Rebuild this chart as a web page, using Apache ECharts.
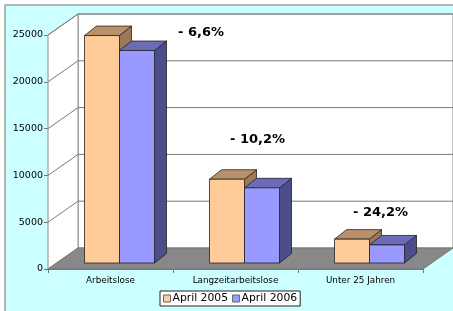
<!DOCTYPE html>
<html>
<head>
<meta charset="utf-8">
<script src="https://cdn.jsdelivr.net/npm/echarts@6/dist/echarts.min.js"></script>
<style>
  html, body { margin: 0; padding: 0; background: #fff; }
  #chart { width: 453px; height: 311px; }
</style>
</head>
<body>
<div id="chart"></div>
<script>
var categories = ['Arbeitslose', 'Langzeitarbeitslose', 'Unter 25 Jahren'];
var april2005 = [24300, 8950, 2550];
var april2006 = [22700, 8030, 1930];
var changes = ['- 6,6%', '- 10,2%', '- 24,2%'];
var yTicks = [0, 5000, 10000, 15000, 20000, 25000];

// depth of the floor / walls and of the bars (pixels)
var DX = 30, DY = -21;
var FX = 9, FY = -6;     // bar front face offset
var BX = 12, BY = -9.5;  // bar depth

var chart = echarts.init(document.getElementById('chart'));

function renderWalls(params, api) {
    var cs = params.coordSys;
    var x0 = cs.x, x1 = cs.x + cs.width;
    var yt = cs.y, yb = cs.y + cs.height;
    var kids = [];
    // back wall
    kids.push({
        type: 'polygon',
        shape: {points: [[x0 + DX, yt + DY], [x1 + DX, yt + DY], [x1 + DX, yb + DY], [x0 + DX, yb + DY]]},
        style: {fill: '#ffffff', stroke: '#8c8c8c', lineWidth: 1}
    });
    // side wall
    kids.push({
        type: 'polygon',
        shape: {points: [[x0, yt], [x0 + DX, yt + DY], [x0 + DX, yb + DY], [x0, yb]]},
        style: {fill: '#ffffff', stroke: '#8c8c8c', lineWidth: 1}
    });
    // floor
    kids.push({
        type: 'polygon',
        shape: {points: [[x0, yb], [x1, yb], [x1 + DX, yb + DY], [x0 + DX, yb + DY]]},
        style: {fill: '#888888', stroke: '#777777', lineWidth: 1}
    });
    yTicks.forEach(function (v) {
        if (v === 0) return;
        var y = api.coord([0, v])[1];
        kids.push({
            type: 'polyline',
            shape: {points: [[x0, y], [x0 + DX, y + DY], [x1 + DX, y + DY]]},
            style: {stroke: '#7a7a7a', lineWidth: 1, fill: null}
        });
    });
    return {type: 'group', children: kids};
}

function barRenderer(left, front, top, side) {
    return function (params, api) {
        var base = api.coord([api.value(0), 0]);
        var tip = api.coord([api.value(0), api.value(1)]);
        var w = api.size([1, 0])[0] * 0.28;
        var xl = base[0] + FX + (left ? -w : 0);
        var xr = xl + w;
        var yb = base[1] + FY;
        var yt = tip[1] + FY;
        var line = {stroke: '#222', lineWidth: 0.8, lineJoin: 'round'};
        return {
            type: 'group',
            children: [
                {
                    type: 'polygon',
                    shape: {points: [[xr, yt], [xr + BX, yt + BY], [xr + BX, yb + BY], [xr, yb]]},
                    style: Object.assign({fill: side}, line)
                },
                {
                    type: 'polygon',
                    shape: {points: [[xl, yt], [xr, yt], [xr + BX, yt + BY], [xl + BX, yt + BY]]},
                    style: Object.assign({fill: top}, line)
                },
                {
                    type: 'rect',
                    shape: {x: xl, y: yt, width: w, height: yb - yt},
                    style: Object.assign({fill: front}, line)
                }
            ]
        };
    };
}

var labelPos = [[178, 26], [230, 133], [353, 206]];

chart.setOption({
    backgroundColor: '#ffffff',
    animation: false,
    grid: {left: 48, right: 30, top: 35, bottom: 42},
    legend: {
        left: 160,
        top: 291,
        orient: 'horizontal',
        icon: 'rect',
        itemWidth: 7,
        itemHeight: 7,
        itemGap: 4,
        padding: [2, 3, 2, 3],
        backgroundColor: '#ffffff',
        borderColor: '#222',
        borderWidth: 1,
        borderRadius: 0,
        textStyle: {fontFamily: 'DejaVu Sans', fontSize: 10.8, color: '#000', padding: [0, 0, 0, -3]},
        data: [
            {name: 'April 2005', itemStyle: {color: '#ffcc99', borderColor: '#666', borderWidth: 1}},
            {name: 'April 2006', itemStyle: {color: '#9999ff', borderColor: '#666', borderWidth: 1}}
        ]
    },
    xAxis: {
        type: 'category',
        data: categories,
        axisLine: {show: true, lineStyle: {color: '#777', width: 1}},
        axisTick: {show: true, length: 4, lineStyle: {color: '#777'}},
        axisLabel: {fontFamily: 'DejaVu Sans', fontSize: 8.8, color: '#000', margin: 7},
        splitLine: {show: false}
    },
    yAxis: {
        type: 'value',
        min: 0,
        max: 25000,
        interval: 5000,
        axisLine: {show: true, lineStyle: {color: '#777', width: 1}},
        axisTick: {show: true, length: 4, lineStyle: {color: '#777'}},
        axisLabel: {
            fontFamily: 'DejaVu Sans', fontSize: 9.5, color: '#000', margin: 5,
            formatter: function (v) { return String(v); }
        },
        splitLine: {show: false}
    },
    graphic: [
        {
            type: 'rect',
            z: -10,
            shape: {x: 5, y: 5, width: 470, height: 330},
            style: {fill: '#ccffff', stroke: '#a0a0a0', lineWidth: 1.5}
        }
    ].concat(changes.map(function (t, i) {
        return {
            type: 'text',
            z: 100,
            left: labelPos[i][0],
            top: labelPos[i][1],
            style: {text: t, fontFamily: 'DejaVu Sans', fontWeight: 'bold', fontSize: 13, fill: '#000'}
        };
    })),
    series: [
        {
            name: 'walls',
            type: 'custom',
            silent: true,
            z: 1,
            renderItem: renderWalls,
            data: [[0, 0]]
        },
        {
            name: 'April 2005',
            type: 'custom',
            z: 2,
            itemStyle: {color: '#ffcc99'},
            renderItem: barRenderer(true, '#ffcc99', '#b8916a', '#9c7a58'),
            encode: {x: 0, y: 1},
            data: april2005.map(function (v, i) { return [i, v]; })
        },
        {
            name: 'April 2006',
            type: 'custom',
            z: 3,
            itemStyle: {color: '#9999ff'},
            renderItem: barRenderer(false, '#9999ff', '#6b6bb8', '#4d4d8c'),
            encode: {x: 0, y: 1},
            data: april2006.map(function (v, i) { return [i, v]; })
        }
    ]
});
</script>
</body>
</html>
